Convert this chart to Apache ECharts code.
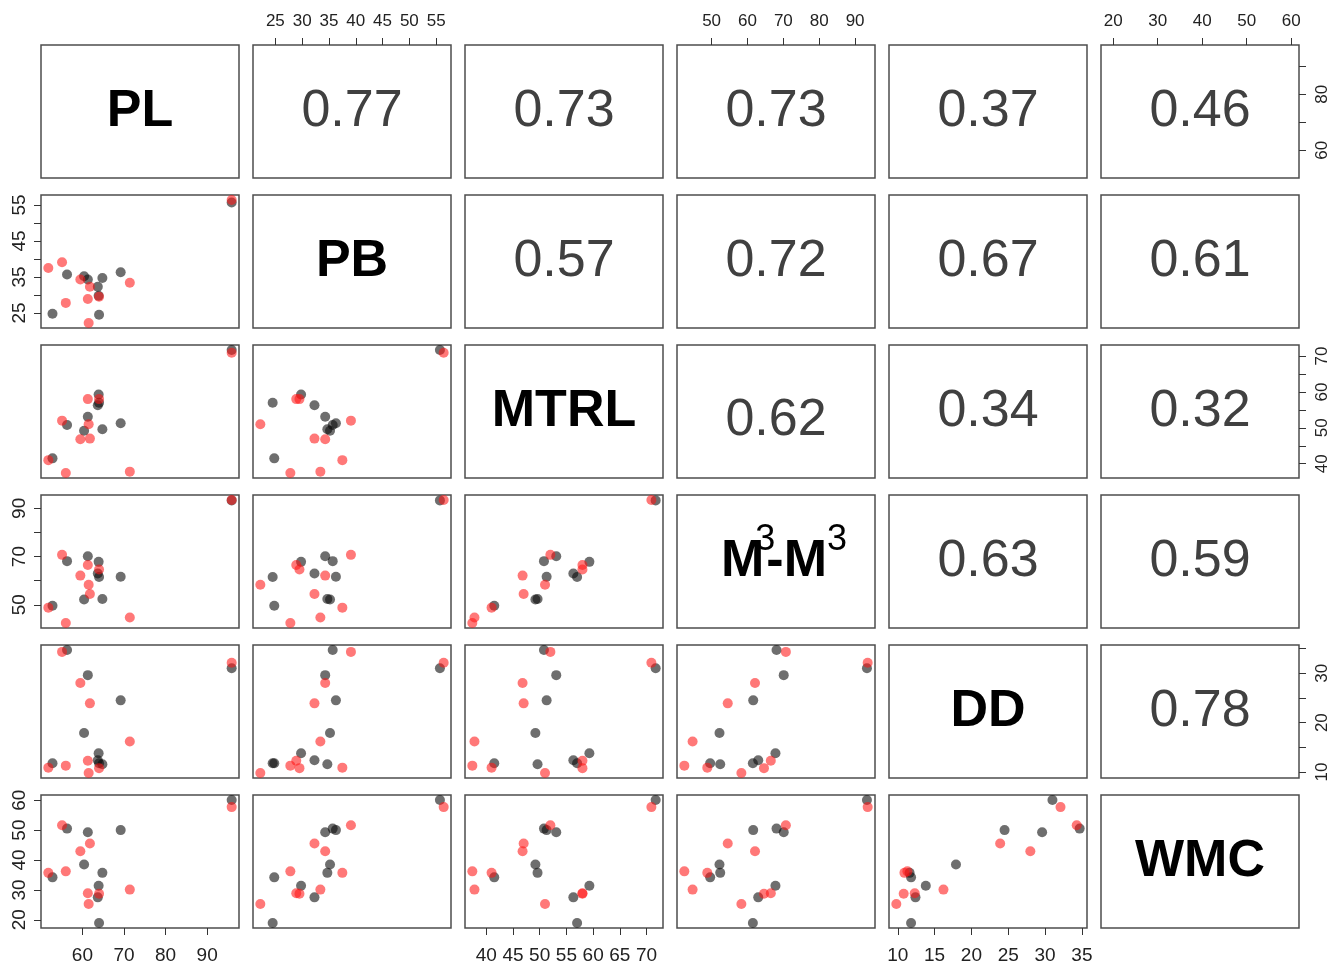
<!DOCTYPE html>
<html>
<head>
<meta charset="utf-8">
<script src="https://cdn.jsdelivr.net/npm/echarts@6/dist/echarts.min.js"></script>
<style>
html,body{margin:0;padding:0;background:#fff;}
#chart{width:1336px;height:965px;}
</style>
</head>
<body>
<div id="chart"></div>
<script>
// Variables (order of the matrix)
const varNames = ['PL', 'PB', 'MTRL', 'M3', 'DD', 'WMC'];
const diagLabels = ['PL', 'PB', 'MTRL', '{m|M}{s0|3}{m|-M}{s|3}', 'DD', 'WMC'];

// Group 1 (black points)
const PL_black   = [95.9, 56.3, 61.3, 69.2, 60.4, 52.8, 64.8, 63.9, 63.7, 64.0];
const PB_black   = [55.7, 35.7, 34.3, 36.3, 35.2, 24.8, 34.7, 29.8, 32.3, 24.5];
const MTRL_black = [71.7, 50.8, 53.1, 51.3, 49.2, 41.5, 49.6, 59.3, 56.3, 57.0];
const M3_black   = [93.3, 68.1, 70.1, 61.6, 52.2, 49.6, 52.4, 67.8, 63.0, 61.5];
const DD_black   = [31.0, 34.7, 29.6, 24.5, 17.9, 11.8, 11.6, 13.8, 12.4, 11.8];
const WMC_black  = [60.1, 50.5, 49.3, 50.0, 38.5, 34.2, 35.7, 31.4, 27.5, 18.9];

// Group 2 (red points)
const PL_red   = [95.9, 55.1, 61.8, 59.5, 56.0, 51.8, 71.4, 61.3, 64.0, 61.5];
const PB_red   = [56.4, 39.1, 32.3, 34.3, 27.8, 37.5, 33.4, 28.9, 29.5, 22.2];
const MTRL_red = [70.9, 52.0, 47.0, 46.8, 37.4, 41.0, 37.8, 58.0, 58.0, 51.0];
const M3_red   = [93.5, 70.7, 54.5, 62.1, 42.4, 48.8, 44.7, 66.5, 64.6, 58.3];
const DD_red   = [32.1, 34.3, 23.9, 28.0, 11.3, 10.9, 16.2, 12.3, 10.8, 9.8];
const WMC_red  = [57.7, 51.6, 45.5, 42.9, 36.2, 35.7, 30.1, 28.9, 28.7, 25.3];

// Correlation labels, upper triangle, row by row
const corrLabels = ['0.77', '0.73', '0.73', '0.37', '0.46',
                    '0.57', '0.72', '0.67', '0.61',
                    '0.62', '0.34', '0.32',
                    '0.63', '0.59',
                    '0.78'];

// Tick values per variable
const ticksPL   = [60, 70, 80, 90];
const ticksPB   = [25, 30, 35, 40, 45, 50, 55];
const ticksMTRL = [40, 45, 50, 55, 60, 65, 70];
const ticksM3   = [50, 60, 70, 80, 90];
const ticksDD   = [10, 15, 20, 25, 30, 35];
const ticksWMC  = [20, 30, 40, 50, 60];

// Labels shown on each side
const labelsBottom = {PL: [60, 70, 80, 90], MTRL: [40, 45, 50, 55, 60, 65, 70], DD: [10, 15, 20, 25, 30, 35]};
const labelsTop    = {PB: [25, 30, 35, 40, 45, 50, 55], M3: [50, 60, 70, 80, 90], WMC: [20, 30, 40, 50, 60]};
const labelsLeft   = {PB: [25, 35, 45, 55], M3: [50, 70, 90], WMC: [20, 30, 40, 50, 60]};
const labelsRight  = {PL: [60, 80], MTRL: [40, 50, 60, 70], DD: [10, 20, 30]};

// ---- build ----
const blackCols = [PL_black, PB_black, MTRL_black, M3_black, DD_black, WMC_black];
const redCols = [PL_red, PB_red, MTRL_red, M3_red, DD_red, WMC_red];
const tickCols = [ticksPL, ticksPB, ticksMTRL, ticksM3, ticksDD, ticksWMC];

const ranges = varNames.map((v, k) => {
  const all = blackCols[k].concat(redCols[k]);
  const mn = Math.min.apply(null, all), mx = Math.max.apply(null, all);
  const r = mx - mn;
  return [mn - 0.04 * r, mx + 0.04 * r];
});

const N = 6;
const L0 = 41, T0 = 45, DX = 212, DY = 150, W = 198, H = 133;
const FONT = '"Liberation Sans", Arial, sans-serif';

const grids = [], xAxes = [], yAxes = [], series = [], graphics = [];

function inRange(vals, k) {
  return vals.filter(v => v >= ranges[k][0] && v <= ranges[k][1]);
}

let corrIdx = 0;
for (let i = 0; i < N; i++) {
  for (let j = 0; j < N; j++) {
    const g = i * N + j;
    const left = L0 + DX * j, top = T0 + DY * i;
    grids.push({left: left, top: top, width: W, height: H, show: true,
      borderColor: '#4d4d4d', borderWidth: 1.5, backgroundColor: '#fff', containLabel: false});

    // x axis
    let xShow = false, xPos = 'bottom', xLabels = [], xFont = 17, xMargin = 10;
    const vx = varNames[j];
    if (i === N - 1 && labelsBottom[vx]) { xShow = true; xPos = 'bottom'; xLabels = labelsBottom[vx]; xFont = 19; xMargin = 18; }
    if (i === 0 && labelsTop[vx]) { xShow = true; xPos = 'top'; xLabels = labelsTop[vx]; xFont = 17; xMargin = 15; }
    xAxes.push({
      type: 'value', gridIndex: g, min: ranges[j][0], max: ranges[j][1], show: xShow, position: xPos,
      splitLine: {show: false}, axisLine: {show: false},
      axisTick: {show: xShow, length: 7, customValues: inRange(tickCols[j], j), lineStyle: {color: '#333', width: 1}},
      axisLabel: {show: xShow, customValues: inRange(xLabels, j), fontSize: xFont, fontFamily: FONT, color: '#222', margin: xMargin}
    });

    // y axis
    let yShow = false, yPos = 'left', yLabels = [], yFont = 17, yMargin = 10;
    const vy = varNames[i];
    if (j === 0 && labelsLeft[vy]) { yShow = true; yPos = 'left'; yLabels = labelsLeft[vy]; yFont = 19; yMargin = 21; }
    if (j === N - 1 && labelsRight[vy]) { yShow = true; yPos = 'right'; yLabels = labelsRight[vy]; yFont = 17; yMargin = 23; }
    yAxes.push({
      type: 'value', gridIndex: g, min: ranges[i][0], max: ranges[i][1], show: yShow, position: yPos,
      splitLine: {show: false}, axisLine: {show: false},
      axisTick: {show: yShow, length: 7, customValues: inRange(tickCols[i], i), lineStyle: {color: '#333', width: 1}},
      axisLabel: {show: yShow, customValues: inRange(yLabels, i), fontSize: yFont, fontFamily: FONT, color: '#222',
        rotate: 90, margin: yMargin, verticalAlign: 'middle', align: 'center'}
    });

    const cx = left + W / 2, cy = top + H / 2;
    if (i > j) {
      series.push({
        type: 'scatter', xAxisIndex: g, yAxisIndex: g, symbolSize: 10, silent: true,
        itemStyle: {color: 'rgba(10,10,10,0.74)'},
        data: blackCols[j].map((v, n) => [v, blackCols[i][n]])
      });
      series.push({
        type: 'scatter', xAxisIndex: g, yAxisIndex: g, symbolSize: 10, silent: true,
        itemStyle: {color: 'rgba(255,20,20,0.72)'},
        data: redCols[j].map((v, n) => [v, redCols[i][n]])
      });
    } else if (i === j) {
      const isRich = diagLabels[i].indexOf('{') >= 0;
      graphics.push({
        type: 'text', x: cx + (isRich ? 8 : 0), y: cy, z: 100,
        style: {
          text: diagLabels[i], fill: '#000', font: 'bold 52px ' + FONT, align: 'center', verticalAlign: 'middle',
          rich: {
            m: {fontSize: 52, fontWeight: 'bold', fontFamily: FONT, fill: '#000', lineHeight: 78},
            s0: {fontSize: 36, fontWeight: 'normal', fontFamily: FONT, fill: '#000', verticalAlign: 'top', lineHeight: 36, width: 2, align: 'left'},
            s: {fontSize: 36, fontWeight: 'normal', fontFamily: FONT, fill: '#000', verticalAlign: 'top', lineHeight: 36}
          }
        }
      });
    } else {
      const dy = (i === 2 && j === 3) ? 9 : 0;
      graphics.push({
        type: 'text', x: cx, y: cy + dy, z: 100,
        style: {text: corrLabels[corrIdx], fill: '#404040', font: '52px ' + FONT, align: 'center', verticalAlign: 'middle'}
      });
      corrIdx++;
    }
  }
}

const chart = echarts.init(document.getElementById('chart'), null, {renderer: 'canvas'});
chart.setOption({
  animation: false,
  backgroundColor: '#fff',
  grid: grids, xAxis: xAxes, yAxis: yAxes, series: series,
  graphic: graphics
});
</script>
</body>
</html>
